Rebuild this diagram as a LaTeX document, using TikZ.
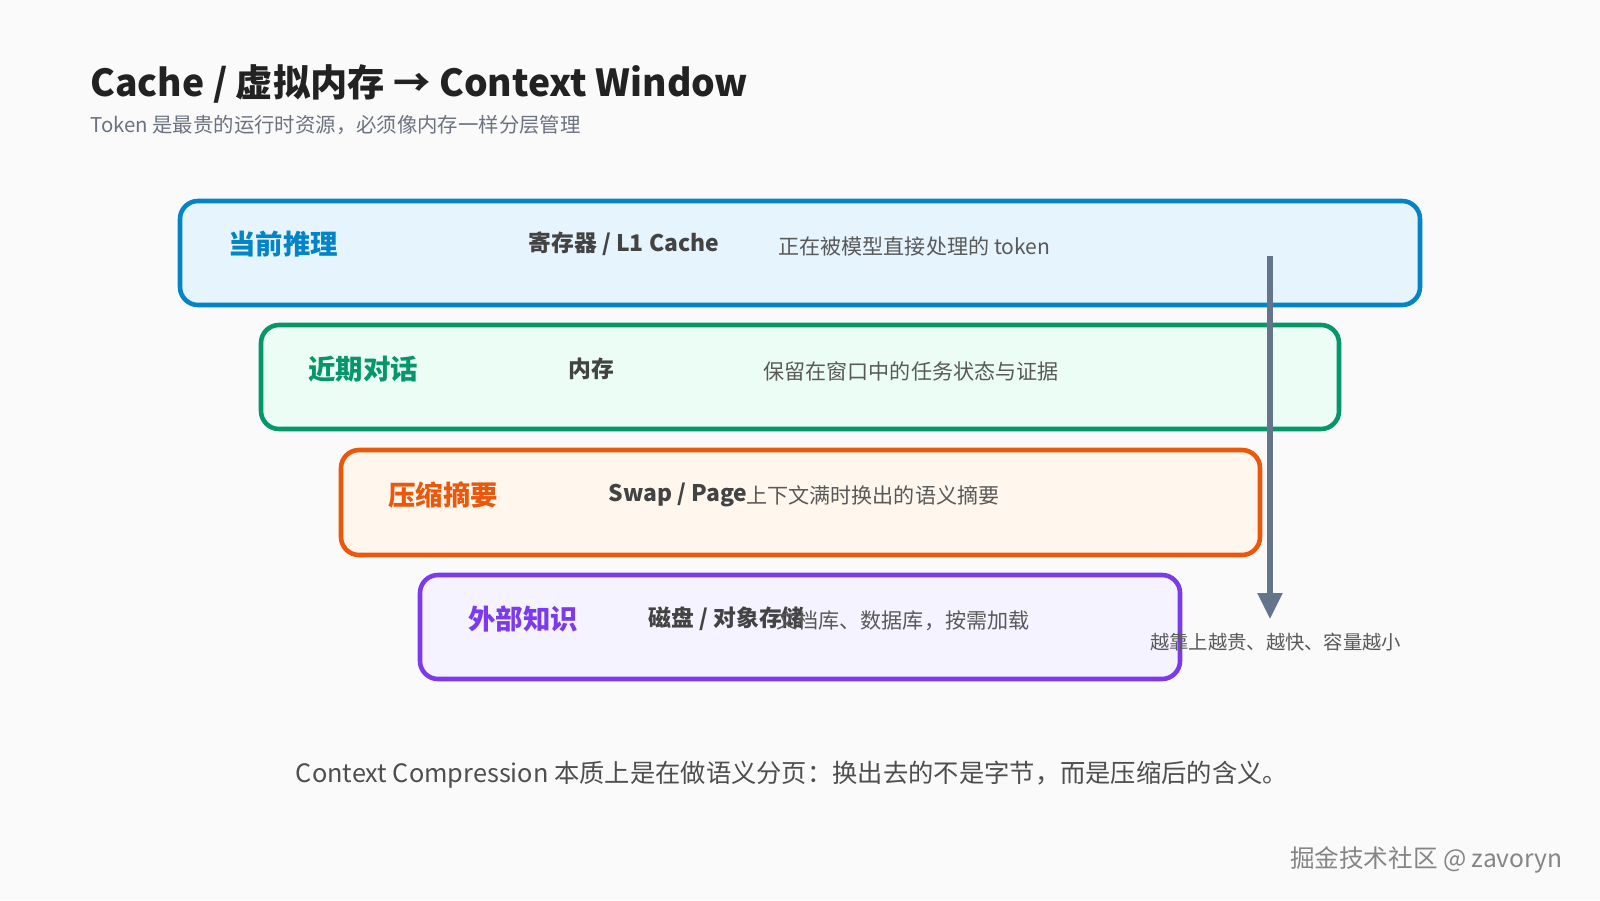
\documentclass[tikz,border=0pt]{standalone}
\usepackage{fontspec}
\setmainfont{Noto Sans CJK SC}
\usetikzlibrary{arrows.meta}
\definecolor{bgc}{HTML}{FAFAFA}
\definecolor{ink}{HTML}{222222}
\definecolor{subc}{HTML}{6B7280}
\definecolor{bluec}{HTML}{0284C7}\definecolor{bluef}{HTML}{E6F4FE}
\definecolor{greenc}{HTML}{059669}\definecolor{greenf}{HTML}{ECFDF5}
\definecolor{orangec}{HTML}{EA580C}\definecolor{orangef}{HTML}{FFF7ED}
\definecolor{purplec}{HTML}{7C3AED}\definecolor{purplef}{HTML}{F5F3FF}
\definecolor{arrowc}{HTML}{64748B}
\tikzset{
  layer/.style={draw=#1c, fill=#1f, line width=1.3pt, rounded corners=0.18cm},
  lname/.style={anchor=west, font=\fontsize{7.8}{9}\selectfont\bfseries, text=#1c},
  lhw/.style={anchor=west, font=\fontsize{6.5}{8}\selectfont\bfseries, text=ink!85},
  ldesc/.style={anchor=west, font=\fontsize{6}{7}\selectfont, text=ink!75},
}
\begin{document}
\begin{tikzpicture}
\fill[bgc] (0,0) rectangle (16,9);
\useasboundingbox (0,0) rectangle (16,9);
\node[anchor=west, font=\fontsize{10.6}{12}\selectfont\bfseries, text=ink] (title) at (0.78,8.16) {Cache / 虚拟内存 → Context Window};
\node[anchor=west, font=\fontsize{5.8}{7}\selectfont, text=subc] (sub) at (0.78,7.75) {Token 是最贵的运行时资源，必须像内存一样分层管理};
% layers
\draw[layer=blue] (1.80,5.95) rectangle (14.20,6.99);
\draw[layer=green] (2.61,4.71) rectangle (13.39,5.75);
\draw[layer=orange] (3.41,3.45) rectangle (12.60,4.50);
\draw[layer=purple] (4.20,2.21) rectangle (11.80,3.25);
\node[lname=blue] (n1) at (2.16,6.56) {当前推理};
\node[lhw] (h1) at (5.16,6.56) {寄存器 / L1 Cache};
\node[ldesc] (d1) at (7.66,6.54) {正在被模型直接处理的 token};
\node[lname=green] (n2) at (2.96,5.31) {近期对话};
\node[lhw] (h2) at (5.56,5.31) {内存};
\node[ldesc] (d2) at (7.51,5.29) {保留在窗口中的任务状态与证据};
\node[lname=orange] (n3) at (3.76,4.05) {压缩摘要};
\node[lhw] (h3) at (5.96,4.05) {Swap / Page};
\node[ldesc, inner sep=0pt] (d3) at ([xshift=-0.14cm]h3.east) {上下文满时换出的语义摘要};
\node[lname=purple] (n4) at (4.56,2.81) {外部知识};
\node[lhw] (h4) at (6.36,2.81) {磁盘 / 对象存储};
\node[ldesc] (d4) at (7.64,2.79) {文档库、数据库，按需加载};
% arrow
\coordinate (atop) at (12.70,6.44);
\coordinate (abot) at (12.70,2.81);
\draw[arrowc, line width=1.5pt, -{Triangle[length=0.26cm,width=0.24cm]}] (atop) -- (abot);
\node[below=0.02cm, align=center, text width=2.4cm, font=\fontsize{5.5}{8.5}\selectfont, text=ink!75] (alab) at (abot) {越靠上越贵、越快、容量越小};
\node[font=\fontsize{7.2}{8}\selectfont, text=ink!80] (foot) at (7.92,1.25) {Context Compression 本质上是在做语义分页：换出去的不是字节，而是压缩后的含义。};
\node[anchor=east, font=\fontsize{7}{8}\selectfont, text=ink!55] (wm) at (15.75,0.40) {掘金技术社区 @ zavoryn};
\end{tikzpicture}
\end{document}
